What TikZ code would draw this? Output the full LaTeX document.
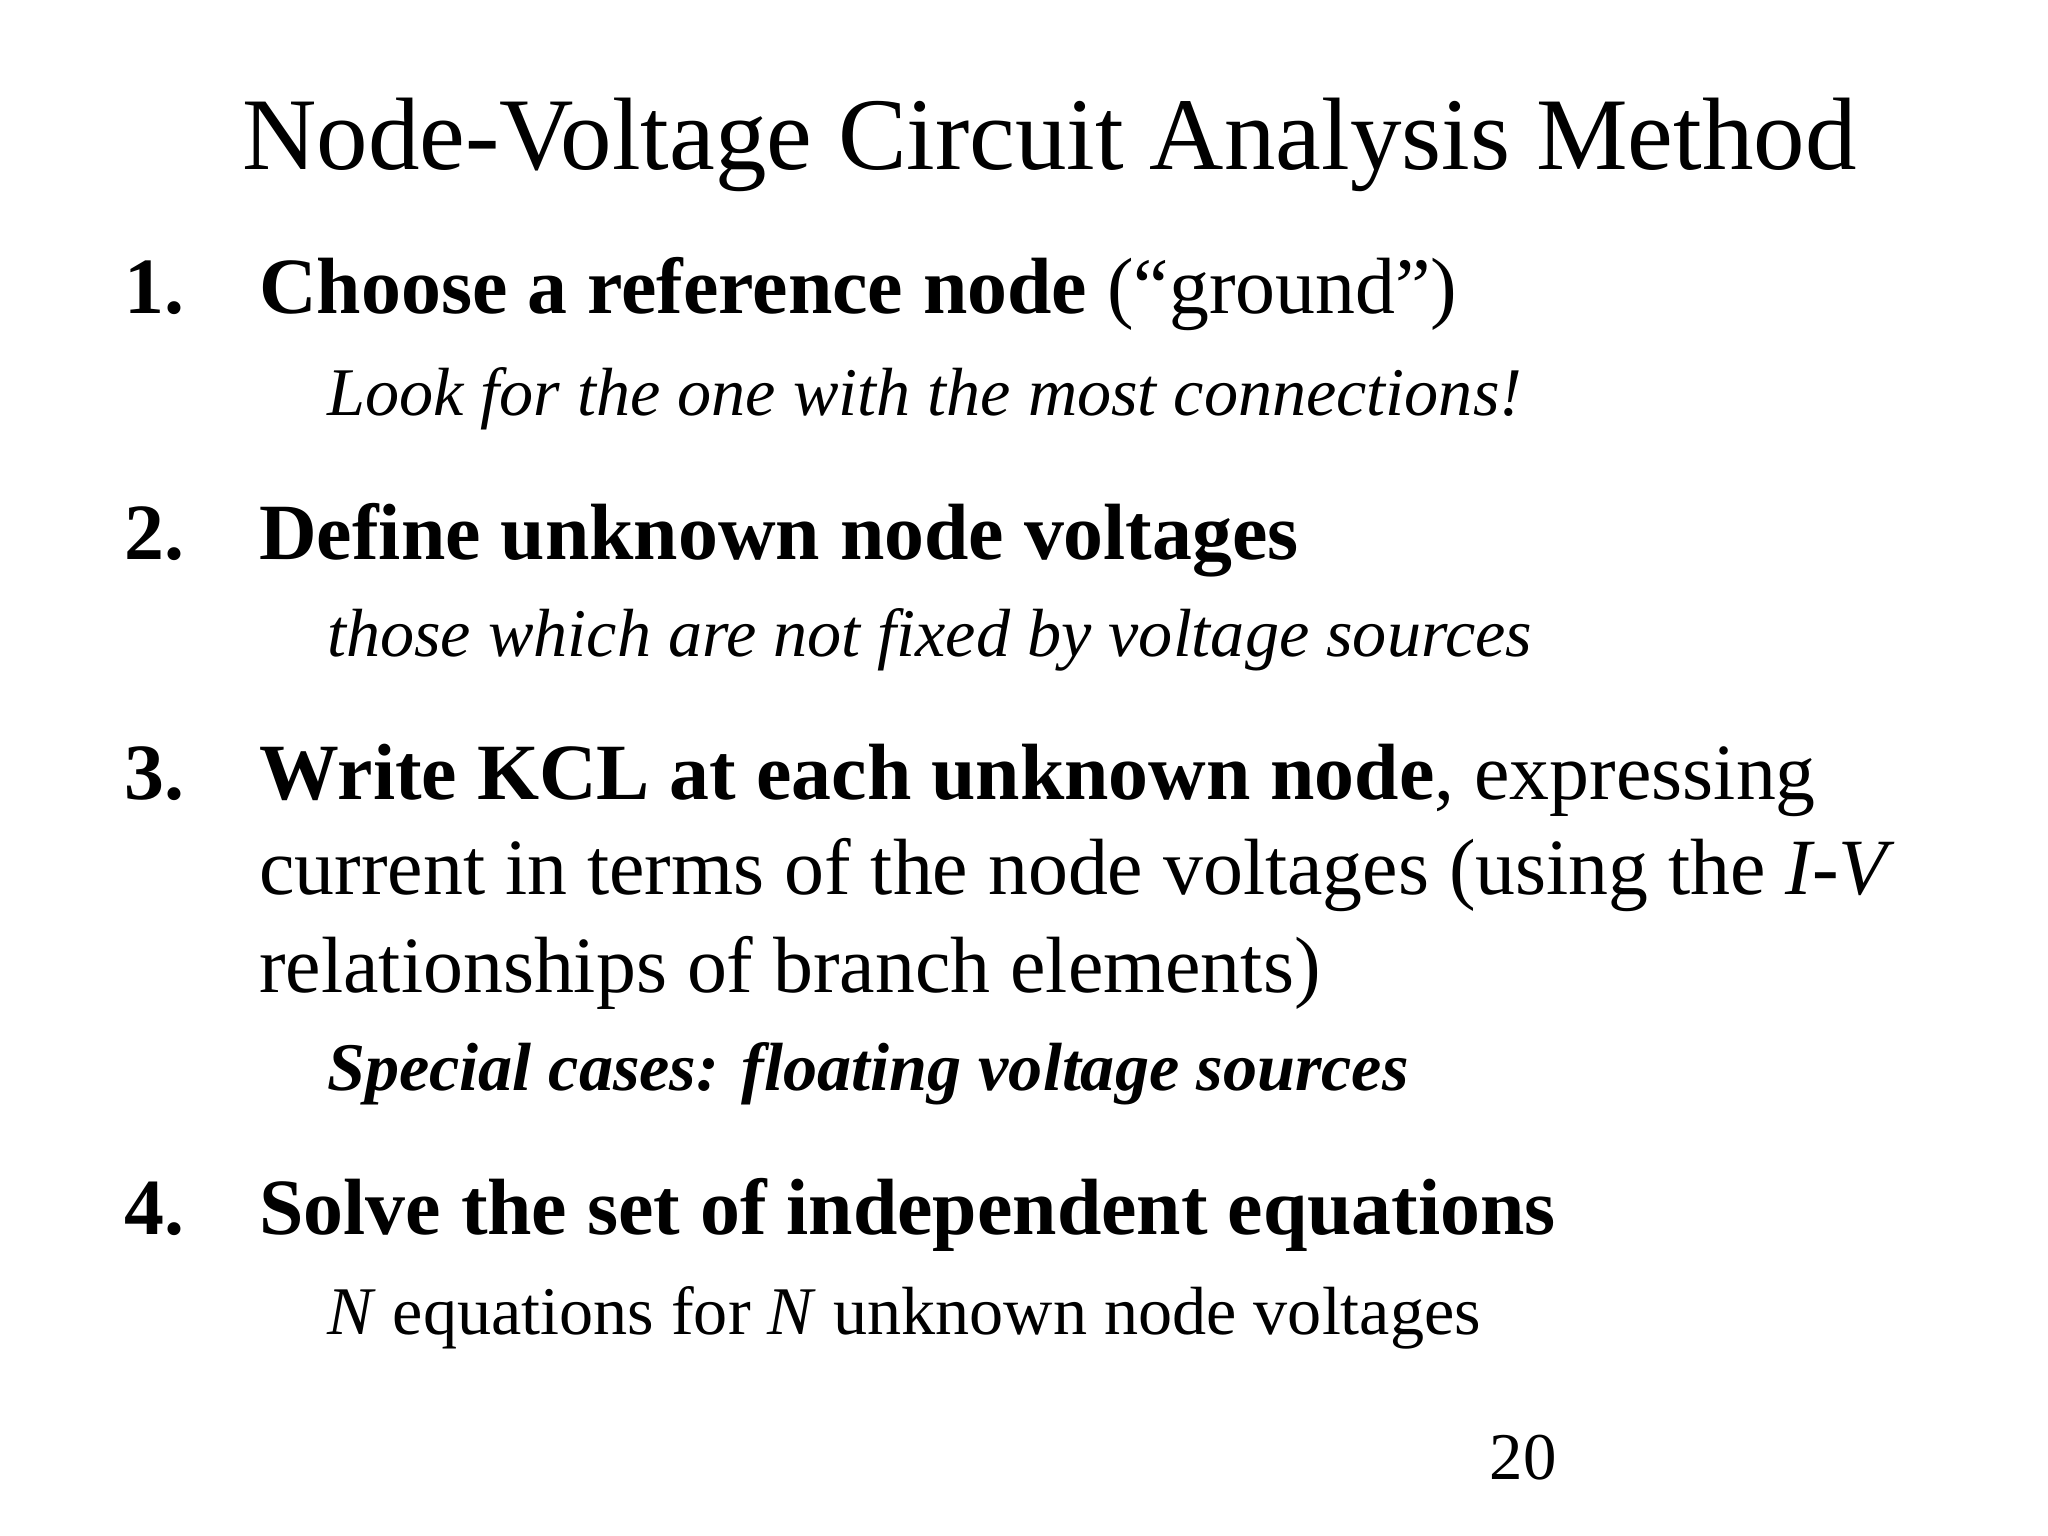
\documentclass[tikz,border=0pt]{standalone}
\usepackage{fontspec}
\setmainfont{Liberation Serif}
\begin{document}
\begin{tikzpicture}[x=0.013061cm,y=-0.013061cm,
  t/.style={anchor=base west,inner sep=0pt},
  big/.style={t,font=\fontsize{29.3}{34}\selectfont},
  body/.style={t,font=\fontsize{22.7}{27}\selectfont},
  sub/.style={t,font=\fontsize{19.4}{23}\selectfont\itshape}]
\useasboundingbox (0,0) rectangle (1568,1176);
\node[big] (title) at (185,130) {Node-Voltage Circuit Analysis Method};
\node[body] (n1) at (95,240) {\textbf{1.}};
\node[body] (i1) at (198,240) {\textbf{Choose a reference node} (“ground”)};
\node[sub] (s1) at (250,318) {Look for the one with the most connections!};
\node[body] (n2) at (95,428) {\textbf{2.}};
\node[body] (i2) at (198,428) {\textbf{Define unknown node voltages}};
\node[sub] (s2) at (250,503) {those which are not fixed by voltage sources};
\node[body] (n3) at (95,612) {\textbf{3.}};
\node[body] (i3a) at (198,612) {\textbf{Write KCL at each unknown node}, expressing};
\node[body] (i3b) at (198,685) {current in terms of the node voltages (using the \textit{I-V}};
\node[body] (i3c) at (198,760) {relationships of branch elements)};
\node[sub] (s3) at (250,835) {\bfseries Special cases: floating voltage sources};
\node[body] (n4) at (95,945) {\textbf{4.}};
\node[body] (i4) at (198,945) {\textbf{Solve the set of independent equations}};
\node[sub,font=\fontsize{19.4}{23}\selectfont] (s4) at (250,1022) {\textit{N} equations for \textit{N} unknown node voltages};
\node[t,font=\fontsize{19}{22}\selectfont] (pg) at (1140,1133) {20};
\end{tikzpicture}
\end{document}
